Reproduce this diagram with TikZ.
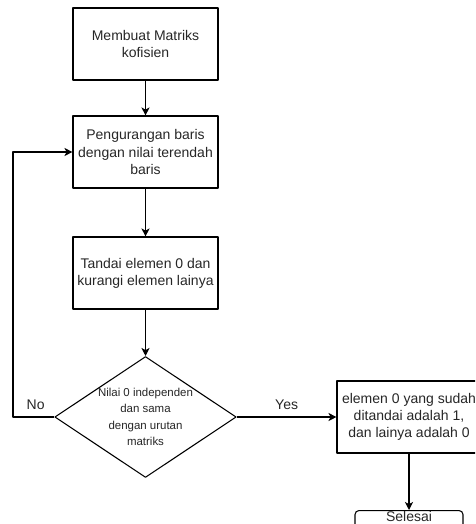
\documentclass[tikz,border=0pt]{standalone}
\usepackage{fontspec}
\setmainfont{Liberation Sans}
\usetikzlibrary{shapes.geometric,arrows.meta}
\begin{document}
\begin{tikzpicture}[x=0.75pt, y=-0.75pt, line join=round, >={Stealth[length=6pt,width=6pt,inset=1.6pt]},
	kotak/.style={draw, thick, minimum width=108.75pt, minimum height=54pt, align=center, text=black!85, font=\fontsize{10.5}{12.8}\selectfont, inner sep=1pt},
	belah/.style={draw, thick, diamond, aspect=1.5, minimum width=135pt, minimum height=90pt, inner sep=0pt, align=center, text=black!85, font=\fontsize{8.6}{12.3}\selectfont},
	ujung/.style={draw, thick, rounded corners=3pt, minimum width=81pt, inner xsep=0pt, inner ysep=1pt, text height=7.4pt, text depth=10pt, text=black!85, font=\fontsize{10.5}{12.8}\selectfont},
	panah/.style={->, thick},
	teks/.style={text=black!85, font=\fontsize{10.5}{12.8}\selectfont}]
	\useasboundingbox (0,0) rectangle (475,524);
	\clip (0,0) rectangle (475,524);
	\def\xa{145.5} \def\xb{409} % kolom
	% kotak proses
	\node[kotak] (buat) at (\xa,44) {Membuat Matriks\\kofisien};
	\node[kotak] (kurang) at (\xa,152) {Pengurangan baris\\dengan nilai terendah\\baris};
	\node[kotak] (tandai) at (\xa,273) {Tandai elemen 0 dan\\kurangi elemen lainya};
	\node[belah] (cek) at (\xa,417) {Nilai 0 independen\\dan sama\\dengan urutan\\matriks};
	\node[kotak, minimum width=108pt] (hasil) at (\xb,417) {elemen 0 yang sudah\\ditandai adalah 1,\\dan lainya adalah 0};
	\node[ujung, anchor=north] (selesai) at (\xb,510) {Selesai};
	% panah
	\draw[panah] (buat) -- (kurang);
	\draw[panah] (kurang) -- (tandai);
	\draw[panah] (tandai) -- (cek);
	\draw[panah] (cek.east) -- node[teks, above=2pt]{Yes} (hasil.west);
	\draw[panah] (hasil) -- (selesai);
	\coordinate (kiri) at (13,417);
	\draw[panah] (cek.west) -- node[teks, above=2pt, pos=0.45]{No} (kiri) |- (kurang.west);
\end{tikzpicture}
\end{document}
